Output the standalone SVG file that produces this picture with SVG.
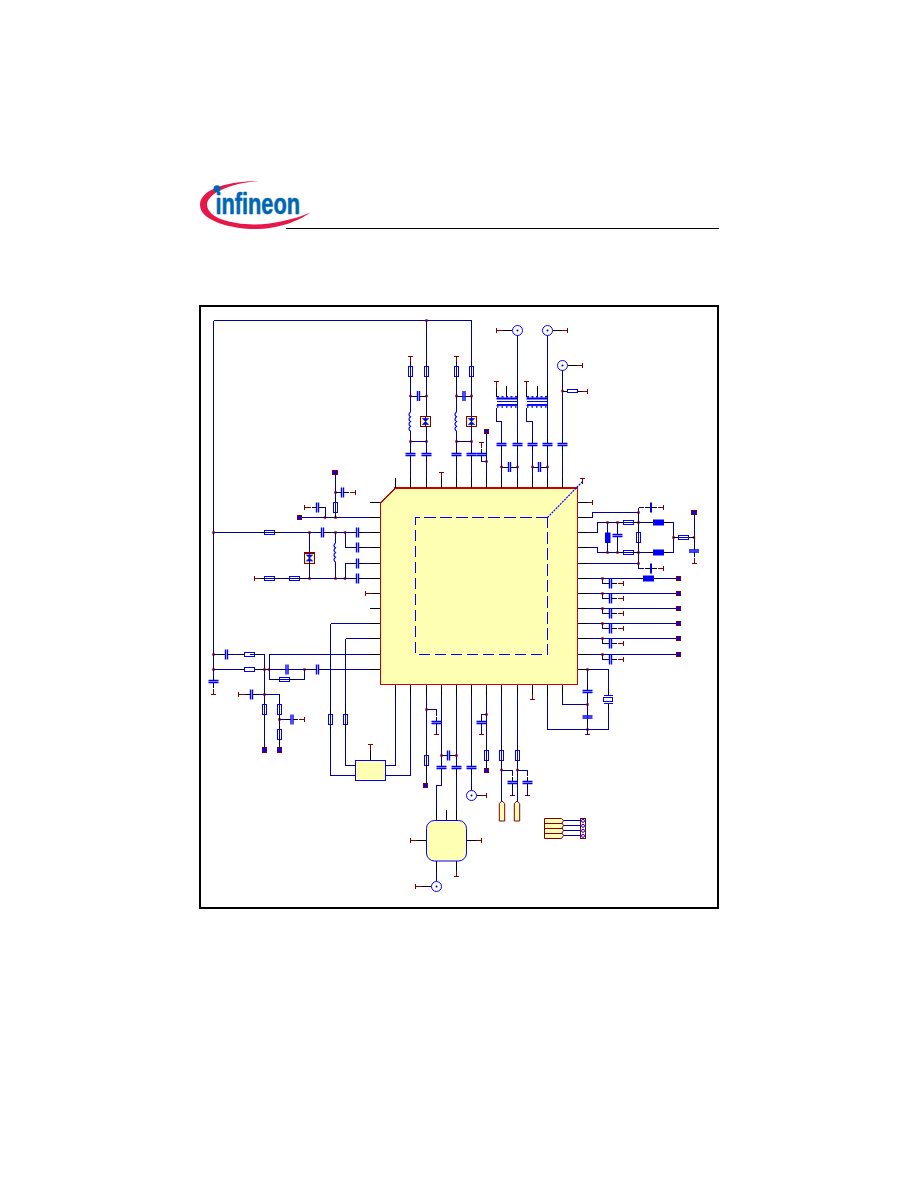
<svg xmlns="http://www.w3.org/2000/svg" width="918" height="1188" viewBox="0 0 918 1188">
<style>
.w{fill:none;stroke:#0000a0;stroke-width:1;shape-rendering:crispEdges}
.p{fill:none;stroke:#000;stroke-width:1;shape-rendering:crispEdges}
.g{fill:none;stroke:#800000;stroke-width:1;shape-rendering:crispEdges}
.b{fill:none;stroke:#0000ff;stroke-width:1.2}
.bc{fill:none;stroke:#0000ff;stroke-width:1;shape-rendering:crispEdges}
.y{fill:#ffffb4}
</style>
<defs>
<rect id="j" x="-1.2" y="-1.2" width="2.4" height="2.4" fill="#800000"/>
<g id="r"><path class="p" d="M-10,0H-5M5,0H10"/><rect x="-5.2" y="-1.8" width="10.4" height="3.6" fill="#fff" class="bc"/></g>
<g id="c"><path class="p" d="M-6,0H-1M1,0H6"/><rect x="-0.5" y="-1" width="1" height="2" fill="#fff"/><path d="M-1,-5V5M1,-5V5" fill="none" stroke="#0000ff" stroke-width="1.4"/></g>
<g id="t"><path class="g" d="M-2.5,0H2.5M0,0V6"/></g>
<g id="box"><rect x="-2.2" y="-2.2" width="4.4" height="4.4" fill="#0000ff" stroke="#800000" stroke-width="1" shape-rendering="crispEdges"/></g>
<g id="l"><rect x="-1" y="-9.5" width="2" height="19" fill="#fff"/><path class="b" d="M0,-9.5q-3,2.4 0,4.75q-3,2.4 0,4.75q-3,2.4 0,4.75q-3,2.4 0,4.75"/></g>
<g id="vd"><rect x="-5" y="-5.2" width="10" height="10.4" class="y" stroke="#800000" stroke-width="1.4" shape-rendering="crispEdges"/><path class="w" d="M0,-5V5"/><path d="M-3.2,-3H3.2L-3.2,3H3.2Z" fill="#0000ff" stroke="#0000ff" stroke-width="0.6"/></g>
<g id="fl"><path class="p" d="M-10,0H-5M5,0H10"/><rect x="-5.5" y="-3" width="11" height="6" fill="#0000ff"/></g>
<g id="fc"><rect x="-1" y="-5" width="2" height="10" fill="#0000ff"/><path class="p" d="M-6,0H-1M1,0H6"/></g>
<g id="conn"><circle r="5" fill="#fff" stroke="#0000ff" stroke-width="1"/><circle r="1" fill="#000099"/></g>
<g id="xf"><path d="M0,0.5H20.5" stroke="#0000ff" stroke-width="2" fill="none"/><path d="M0.5,-1.2H20.5" stroke="#0000ff" stroke-width="1.6" stroke-dasharray="2,2.5" fill="none"/><path class="bc" d="M0,3.5H20.5M0,6.5H20.5"/><path d="M0,7.6H20.5" stroke="#0000ff" stroke-width="1" fill="none"/><path d="M0.5,9H20.5" stroke="#0000ff" stroke-width="1.6" stroke-dasharray="1.5,3" fill="none"/></g>
<path id="pad" d="M-2.7,20V2.5L0,0L2.7,2.5V20Z" class="y" stroke="#800000" stroke-width="1"/>
</defs>

<g id="logo">
<path d="M259,181C235,181 200,187 200,205C200,222 235,229 254,229C280,229 300,220 310,212.7C295,219 275,224 254,224.5C230,224 208,218 207,205C207,195 225,184 259,181Z" fill="#e8174a"/>
<circle cx="217" cy="188.7" r="3.5" fill="#0066b3"/>
<text x="215.5" y="213.5" font-family="'Liberation Sans',Arial,sans-serif" font-weight="700" font-size="30" fill="#0066b3" stroke="#0066b3" stroke-width="0.6" textLength="84.5" lengthAdjust="spacingAndGlyphs">infineon</text>
<path d="M286,228.5H719" stroke="#000" stroke-width="1" shape-rendering="crispEdges"/>
</g>
<rect id="frame" x="200" y="306" width="518" height="602" fill="none" stroke="#000" stroke-width="2" shape-rendering="crispEdges"/>

<g id="U1">
<path d="M395,488H577.5V684.5H380.5V503Z" class="y" stroke="#cc0000" stroke-width="1.4" shape-rendering="crispEdges"/>
<path d="M547.5,517.5H415.5V654.5H547.5V517.5" fill="none" stroke="#0000ff" stroke-width="1" stroke-dasharray="11.5,4.5" shape-rendering="crispEdges"/>
<path d="M547.5,517.5L582,482" fill="none" stroke="#0000ff" stroke-width="1.2" stroke-dasharray="2,1"/>
</g>

<g id="connectors">
<path class="w" d="M213.5,320.5H471.5M213.5,320.5V688M426.5,320.5V478M471.5,320.5V478M410.5,362V478M456.5,362V478M411,396H426M456,396H471M411,441.5H426M456,441.5H471M486.5,433V478M486.5,461.5H481.5V456M501.5,478V421.5H496.5V408M517.5,478V335M532.5,478V421.5H526.5V408M547.5,478V335M562.5,478V370M562.5,391H567"/>
<path class="w" d="M501.5,467H517M532,467H547"/>
<path class="w" d="M301,517.5H370.5M325,517.5V507.5H322M335.5,517.5V474M335.5,492.5H338M213.5,532.5H370.5M345,532.5V547.5H370.5M335.5,532.5V578M345,563.5V578M345,563.5H370.5M260,578.5H370.5M309.5,532.5V578"/>
<path class="w" d="M213.5,654.5H240M250,654.5H264.5V750M213.5,669.5H240M259,669.5H370.5M269,654.5H370.5M269,654.5V679.5H304.5V669.5M245,694.5H279.5V750M279.5,719.5H286M330.5,623.5H370.5M330.5,623.5V775.5H355M345.5,638.5H370.5M345.5,638.5V765.5H355M385,765.5H395.5V695M385,775.5H410.5V695"/>
<path class="w" d="M587,517.5H592.5V512.5H638.5M638.5,507.5V568.5H644M638.5,507.5H644M587,532.5H597.5V522.5H653M664,522.5H673.5V552.5H664M587,547.5H597.5V552.5H653M607.5,522.5V552.5M617.5,522.5V552.5M587,563.5H638.5M673.5,537.5H694M694,514V549M587,578.5H676M587,593.5H676M587,608.5H676M587,623.5H676M587,638.5H676M587,654.5H676"/>
<path class="w" d="M602.5,578.5V583.5H605M602.5,593.5V598.5H605M602.5,608.5V613.5H605M602.5,623.5V628.5H605M602.5,638.5V643.5H605M602.5,654.5V659.5H605"/>
<path class="w" d="M587,669.5H608.5V690M587.5,669.5V729.5M608.5,708V729.5H547.5V695M562.5,695V704.5H587.5"/>
<path class="w" d="M426.5,695V783M426.5,709.5H436.5V716M441.5,695V785.5H436.5V820M456.5,695V820M471.5,695V790M486.5,695V768M486.5,714.5H481.5V718M501.5,695V801M517.5,695V801M501.5,770H512.5V776M517.5,770H527.5V776"/>
<path class="w" d="M441.5,755.5H444M456,755.5H453"/>
<path class="w" d="M436.5,861V881M563,820.5H580.5M563,825.5H580.5M563,830.5H580.5M563,835.5H580.5"/>
<path class="p" d="M512,330.5H502.5M552.5,330.5H561.5M567.5,365.5H576.5M476.5,795.5H480.5M431,886.5H421.5"/>
<path class="p" d="M395.5,477.5V488M410.5,477.5V488M426.5,477.5V488M441.5,477.5V488M456.5,477.5V488M471.5,477.5V488M486.5,477.5V488M501.5,477.5V488M517.5,477.5V488M532.5,477.5V488M547.5,477.5V488M562.5,477.5V488"/>
<path class="p" d="M370,502.5H380M370,517.5H380M370,532.5H380M370,547.5H380M370,563.5H380M370,578.5H380M370,593.5H380M370,608.5H380M370,623.5H380M370,638.5H380M370,654.5H380M370,669.5H380"/>
<path class="p" d="M578,502.5H587M578,517.5H587M578,532.5H587M578,547.5H587M578,563.5H587M578,578.5H587M578,593.5H587M578,608.5H587M578,623.5H587M578,638.5H587M578,654.5H587M578,669.5H587"/>
<path class="p" d="M395.5,685V695M410.5,685V695M426.5,685V695M441.5,685V695M456.5,685V695M471.5,685V695M486.5,685V695M501.5,685V695M517.5,685V695M532.5,685V695M547.5,685V695M562.5,685V695"/>
<path class="p" d="M496.5,382V397M506.5,386V397M517.5,385V397M526.5,382V397M537,386V397M547.5,385V397M446.5,810V820M436.5,810V820M456.5,810V820M370.5,750V760M426,840.5H416M467,840.5H476M436.5,861V872M456.5,861V871"/>
</g>

<g id="junctions">
<use href="#j" x="426.5" y="320.5"/><use href="#j" x="410.5" y="396"/><use href="#j" x="426.5" y="396"/><use href="#j" x="456.5" y="396"/><use href="#j" x="471.5" y="396"/><use href="#j" x="410.5" y="441.5"/><use href="#j" x="426.5" y="441.5"/><use href="#j" x="456.5" y="441.5"/><use href="#j" x="471.5" y="441.5"/><use href="#j" x="486.5" y="461.5"/><use href="#j" x="501.5" y="467"/><use href="#j" x="517.5" y="467"/><use href="#j" x="532.5" y="467"/><use href="#j" x="547.5" y="467"/><use href="#j" x="562.5" y="391"/>
<use href="#j" x="325" y="517.5"/><use href="#j" x="335.5" y="517.5"/><use href="#j" x="335.5" y="492.5"/><use href="#j" x="213.5" y="532.5"/><use href="#j" x="309.5" y="532.5"/><use href="#j" x="335.5" y="532.5"/><use href="#j" x="345" y="532.5"/><use href="#j" x="309.5" y="578.5"/><use href="#j" x="335.5" y="578.5"/><use href="#j" x="345" y="578.5"/>
<use href="#j" x="213.5" y="654.5"/><use href="#j" x="213.5" y="669.5"/><use href="#j" x="264.5" y="669.5"/><use href="#j" x="269" y="669.5"/><use href="#j" x="304.5" y="669.5"/><use href="#j" x="264.5" y="694.5"/><use href="#j" x="279.5" y="719.5"/>
<use href="#j" x="638.5" y="512.5"/><use href="#j" x="607.5" y="522.5"/><use href="#j" x="617.5" y="522.5"/><use href="#j" x="638.5" y="522.5"/><use href="#j" x="607.5" y="552.5"/><use href="#j" x="617.5" y="552.5"/><use href="#j" x="638.5" y="552.5"/><use href="#j" x="638.5" y="563.5"/><use href="#j" x="673.5" y="537.5"/><use href="#j" x="694" y="537.5"/>
<use href="#j" x="602.5" y="578.5"/><use href="#j" x="602.5" y="593.5"/><use href="#j" x="602.5" y="608.5"/><use href="#j" x="602.5" y="623.5"/><use href="#j" x="602.5" y="638.5"/><use href="#j" x="602.5" y="654.5"/>
<use href="#j" x="587.5" y="669.5"/><use href="#j" x="587.5" y="704.5"/><use href="#j" x="587.5" y="729.5"/>
<use href="#j" x="426.5" y="709.5"/><use href="#j" x="441.5" y="755.5"/><use href="#j" x="456.5" y="755.5"/><use href="#j" x="486.5" y="714.5"/><use href="#j" x="501.5" y="770"/><use href="#j" x="517.5" y="770"/>
</g>

<g id="resistors">
<g id="R1"><use href="#r" transform="translate(410.5,371.5) rotate(90)"/></g>
<g id="R2"><use href="#r" transform="translate(426.5,371.5) rotate(90)"/></g>
<g id="R3"><use href="#r" transform="translate(456.5,371.5) rotate(90)"/></g>
<g id="R4"><use href="#r" transform="translate(471.5,371.5) rotate(90)"/></g>
<g id="R5"><use href="#r" transform="translate(572.5,391)"/></g>
<g id="R6"><use href="#r" transform="translate(335.5,507.5) rotate(90)"/></g>
<g id="R7"><use href="#r" transform="translate(269.5,532.5)"/></g>
<g id="R8"><use href="#r" transform="translate(269.5,578.5)"/></g>
<g id="R9"><use href="#r" transform="translate(294.5,578.5)"/></g>
<g id="R10"><use href="#r" transform="translate(249.5,654.5)"/></g>
<g id="R11"><use href="#r" transform="translate(249.5,669.5)"/></g>
<g id="R12"><use href="#r" transform="translate(284.5,679.5)"/></g>
<g id="R13"><use href="#r" transform="translate(264.5,709.5) rotate(90)"/></g>
<g id="R14"><use href="#r" transform="translate(279.5,709.5) rotate(90)"/></g>
<g id="R15"><use href="#r" transform="translate(279.5,734.5) rotate(90)"/></g>
<g id="R16"><use href="#r" transform="translate(330.5,719.5) rotate(90)"/></g>
<g id="R17"><use href="#r" transform="translate(345.5,719.5) rotate(90)"/></g>
<g id="R18"><use href="#r" transform="translate(628.5,522.5)"/></g>
<g id="R19"><use href="#r" transform="translate(628.5,552.5)"/></g>
<g id="R20"><use href="#r" transform="translate(638.5,537.5) rotate(90)"/></g>
<g id="R21"><use href="#r" transform="translate(683.5,537.5)"/></g>
<g id="R22"><use href="#r" transform="translate(426.5,760.5) rotate(90)"/></g>
<g id="R23"><use href="#r" transform="translate(486.5,755.5) rotate(90)"/></g>
<g id="R24"><use href="#r" transform="translate(501.5,755.5) rotate(90)"/></g>
<g id="R25"><use href="#r" transform="translate(517.5,755.5) rotate(90)"/></g>
</g>

<g id="capacitors">
<g id="C1"><use href="#c" transform="translate(418.5,396)"/></g>
<g id="C2"><use href="#c" transform="translate(464,396)"/></g>
<g id="C3"><use href="#c" transform="translate(410.5,454.5) rotate(90)"/></g>
<g id="C4"><use href="#c" transform="translate(426.5,454.5) rotate(90)"/></g>
<g id="C5"><use href="#c" transform="translate(456.5,454.5) rotate(90)"/></g>
<g id="C6"><use href="#c" transform="translate(471.5,454.5) rotate(90)"/></g>
<g id="C7"><use href="#c" transform="translate(481.5,454.5) rotate(90)"/></g>
<g id="C8"><use href="#c" transform="translate(501.5,444.5) rotate(90)"/></g>
<g id="C9"><use href="#c" transform="translate(517.5,444.5) rotate(90)"/></g>
<g id="C10"><use href="#c" transform="translate(532.5,444.5) rotate(90)"/></g>
<g id="C11"><use href="#c" transform="translate(547.5,444.5) rotate(90)"/></g>
<g id="C12"><use href="#c" transform="translate(562.5,444.5) rotate(90)"/></g>
<g id="C13"><use href="#c" transform="translate(509.5,467)"/></g>
<g id="C14"><use href="#c" transform="translate(539.5,467)"/></g>
<g id="C15"><use href="#c" transform="translate(317.5,507.5)"/></g>
<g id="C16"><use href="#c" transform="translate(342.5,492.5)"/></g>
<g id="C17"><use href="#c" transform="translate(322.5,532.5)"/></g>
<g id="C18"><use href="#c" transform="translate(357.5,532.5)"/></g>
<g id="C19"><use href="#c" transform="translate(357.5,547.5)"/></g>
<g id="C20"><use href="#c" transform="translate(357.5,563.5)"/></g>
<g id="C21"><use href="#c" transform="translate(357.5,578.5)"/></g>
<g id="C22"><use href="#c" transform="translate(226.5,654.5)"/></g>
<g id="C23"><use href="#c" transform="translate(287,669.5)"/></g>
<g id="C24"><use href="#c" transform="translate(317.5,669.5)"/></g>
<g id="C25"><use href="#c" transform="translate(213.5,681.5) rotate(90)"/></g>
<g id="C26"><use href="#c" transform="translate(251.5,694.5)"/></g>
<g id="C27"><use href="#c" transform="translate(292,719.5)"/></g>
<g id="C28"><use href="#c" transform="translate(617.5,535.5) rotate(90)"/></g>
<g id="C29"><use href="#c" transform="translate(694,551) rotate(90)"/></g>
<g id="C30"><use href="#c" transform="translate(610.5,583.5)"/></g>
<g id="C31"><use href="#c" transform="translate(610.5,598.5)"/></g>
<g id="C32"><use href="#c" transform="translate(610.5,613.5)"/></g>
<g id="C33"><use href="#c" transform="translate(610.5,628.5)"/></g>
<g id="C34"><use href="#c" transform="translate(610.5,643.5)"/></g>
<g id="C35"><use href="#c" transform="translate(610.5,659.5)"/></g>
<g id="C36"><use href="#c" transform="translate(587.5,691.5) rotate(90)"/></g>
<g id="C37"><use href="#c" transform="translate(587.5,717) rotate(90)"/></g>
<g id="C38"><use href="#c" transform="translate(436.5,722.5) rotate(90)"/></g>
<g id="C39"><use href="#c" transform="translate(481.5,722.5) rotate(90)"/></g>
<g id="C40"><use href="#c" transform="translate(448.5,755.5)"/></g>
<g id="C41"><use href="#c" transform="translate(441.5,767.5) rotate(90)"/></g>
<g id="C42"><use href="#c" transform="translate(456.5,767.5) rotate(90)"/></g>
<g id="C43"><use href="#c" transform="translate(471.5,767.5) rotate(90)"/></g>
<g id="C44"><use href="#c" transform="translate(512.5,782.5) rotate(90)"/></g>
<g id="C45"><use href="#c" transform="translate(527.5,782.5) rotate(90)"/></g>
<g id="C46"><use href="#fc" transform="translate(651,507.5)"/></g>
<g id="C47"><use href="#fc" transform="translate(651,568.5)"/></g>
</g>

<g id="grounds">
<use href="#t" transform="translate(410.5,356)"/><use href="#t" transform="translate(456.5,356)"/><use href="#t" transform="translate(441.5,472)"/><use href="#t" transform="translate(481.5,442)"/><use href="#t" transform="translate(496.5,381.5)"/><use href="#t" transform="translate(526.5,381.5)"/><use href="#t" transform="translate(582.5,478)"/>
<use href="#t" transform="translate(587.5,391) rotate(90)"/><use href="#t" transform="translate(496.5,330.5) rotate(-90)"/><use href="#t" transform="translate(567.5,330.5) rotate(90)"/><use href="#t" transform="translate(582.5,365.5) rotate(90)"/>
<use href="#t" transform="translate(304.5,507.5) rotate(-90)"/><use href="#t" transform="translate(355.5,492.5) rotate(90)"/><use href="#t" transform="translate(254.5,578.5) rotate(-90)"/><use href="#t" transform="translate(365.5,593.5) rotate(-90)"/>
<use href="#t" transform="translate(213.5,694.5) rotate(180)"/><use href="#t" transform="translate(238.5,694.5) rotate(-90)"/><use href="#t" transform="translate(304.5,719.5) rotate(90)"/><use href="#t" transform="translate(370.5,744.5)"/>
<use href="#t" transform="translate(592.5,502.5) rotate(90)"/><use href="#t" transform="translate(663.5,507.5) rotate(90)"/><use href="#t" transform="translate(663.5,568.5) rotate(90)"/><use href="#t" transform="translate(694,563.5) rotate(180)"/>
<use href="#t" transform="translate(623.5,583.5) rotate(90)"/><use href="#t" transform="translate(623.5,598.5) rotate(90)"/><use href="#t" transform="translate(623.5,613.5) rotate(90)"/><use href="#t" transform="translate(623.5,628.5) rotate(90)"/><use href="#t" transform="translate(623.5,643.5) rotate(90)"/><use href="#t" transform="translate(623.5,659.5) rotate(90)"/>
<use href="#t" transform="translate(587.5,734.5) rotate(180)"/><use href="#t" transform="translate(532.5,699.5) rotate(180)"/><use href="#t" transform="translate(436.5,734) rotate(180)"/><use href="#t" transform="translate(481.5,734) rotate(180)"/><use href="#t" transform="translate(512.5,795.5) rotate(180)"/><use href="#t" transform="translate(527.5,795.5) rotate(180)"/><use href="#t" transform="translate(486.5,795.5) rotate(90)"/>
<use href="#t" transform="translate(410.5,840.5) rotate(-90)"/><use href="#t" transform="translate(481.5,840.5) rotate(90)"/><use href="#t" transform="translate(456.5,876.5) rotate(180)"/><use href="#t" transform="translate(415.5,886.5) rotate(-90)"/>
</g>
<path class="w" d="M436.5,734V725M481.5,734V725M512.5,795.5V788M527.5,795.5V788M587.5,734.5V729"/>

<g id="L1"><use href="#l" transform="translate(410.5,421.5)"/></g>
<g id="L2"><use href="#l" transform="translate(456.5,421.5)"/></g>
<g id="L3"><use href="#l" transform="translate(335.5,552.5)"/></g>
<g id="L4"><use href="#fl" transform="translate(658.5,522.5)"/></g>
<g id="L5"><use href="#fl" transform="translate(658.5,552.5)"/></g>
<g id="L6"><use href="#fl" transform="translate(648.5,578.5)"/></g>
<g id="FB1"><rect x="605" y="532.5" width="5.5" height="10.5" fill="#0000ff"/></g>
<g id="D1"><use href="#vd" transform="translate(425.5,421.5)"/></g>
<g id="D2"><use href="#vd" transform="translate(471.5,421.5)"/></g>
<g id="D3"><use href="#vd" transform="translate(309.5,558)"/></g>
<g id="T1"><use href="#xf" transform="translate(496.5,398)"/></g>
<g id="T2"><use href="#xf" transform="translate(526.5,398)"/></g>
<g id="J1"><use href="#conn" transform="translate(517.5,330.5)"/></g>
<g id="J2"><use href="#conn" transform="translate(547.5,330.5)"/></g>
<g id="J3"><use href="#conn" transform="translate(562.5,365.5)"/></g>
<g id="J4"><use href="#conn" transform="translate(471.5,795.5)"/></g>
<g id="J5"><use href="#conn" transform="translate(436.5,886.5)"/></g>
<g id="TP1"><use href="#box" x="486.5" y="431.5"/></g>
<g id="TP2"><use href="#box" x="335" y="472.5"/></g>
<g id="TP3"><use href="#box" x="299.5" y="517.5"/></g>
<g id="TP4"><use href="#box" x="264.5" y="750"/></g>
<g id="TP5"><use href="#box" x="279.5" y="750"/></g>
<g id="TP6"><use href="#box" x="694" y="512.5"/></g>
<g id="TP7"><use href="#box" x="678.5" y="578.5"/></g>
<g id="TP8"><use href="#box" x="678.5" y="593.5"/></g>
<g id="TP9"><use href="#box" x="678.5" y="608.5"/></g>
<g id="TP10"><use href="#box" x="678.5" y="623.5"/></g>
<g id="TP11"><use href="#box" x="678.5" y="638.5"/></g>
<g id="TP12"><use href="#box" x="678.5" y="654.5"/></g>
<g id="TP13"><use href="#box" x="425.5" y="785.5"/></g>
<g id="TP14"><use href="#box" x="486.5" y="770.5"/></g>
<g id="Y1"><path class="bc" d="M603.5,695.5H612.5M603.5,703.5H612.5"/><rect x="603.5" y="697.5" width="9" height="4" fill="#fff" class="bc"/><path class="p" d="M608.5,690V695M608.5,704V709"/></g>
<g id="U2"><rect x="355.5" y="760.5" width="30" height="20" class="y" stroke="#0000ff" stroke-width="1" shape-rendering="crispEdges"/></g>
<g id="U3"><rect x="426.5" y="820.5" width="40" height="40.5" rx="8" class="y" stroke="#0000ff" stroke-width="1"/></g>
<g id="P1"><use href="#pad" transform="translate(502,801)"/></g>
<g id="P2"><use href="#pad" transform="translate(517,801)"/></g>
<g id="X1">
<path d="M544.5,818.5H561.5L563.5,820.5L562,823L563.5,825.5L562,828L563.5,830.5L562,833L563.5,835.5L561.5,838.5H544.5Z" class="y" stroke="#800000" stroke-width="1"/>
<path class="g" d="M544.5,823H562M544.5,828H562M544.5,833H562"/>
<rect x="580.5" y="818.5" width="5" height="20" fill="#fff" stroke="#800000" stroke-width="1" shape-rendering="crispEdges"/>
<circle cx="583" cy="820.8" r="1.5" fill="none" stroke="#0000ff"/><circle cx="583" cy="825.8" r="1.5" fill="none" stroke="#0000ff"/><circle cx="583" cy="830.8" r="1.5" fill="none" stroke="#0000ff"/><circle cx="583" cy="835.8" r="1.5" fill="none" stroke="#0000ff"/>
</g>
</svg>
